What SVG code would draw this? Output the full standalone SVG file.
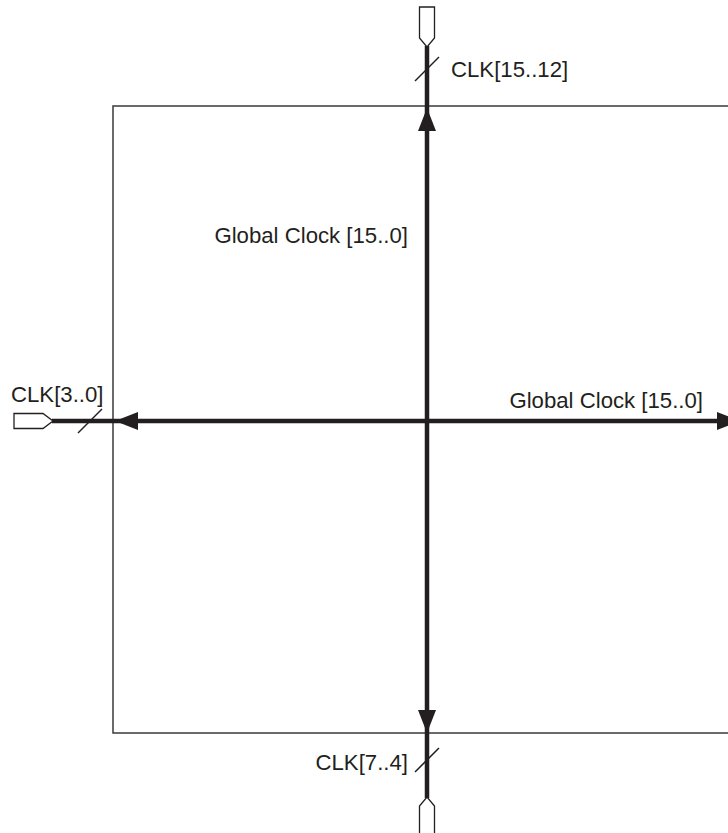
<svg xmlns="http://www.w3.org/2000/svg" width="728" height="833" viewBox="0 0 728 833">
<style>
.box{fill:none;stroke:#3a3a3a;stroke-width:1.5}
.bus{fill:none;stroke:#231f20;stroke-width:4.5}
.slash{fill:none;stroke:#231f20;stroke-width:1.5}
.pin{fill:#fff;stroke:#231f20;stroke-width:1.3}
.head{fill:#231f20}
.lbl{font-family:"Liberation Sans",Arial,sans-serif;font-size:22.2px;fill:#231f20}
</style>
<rect width="728" height="833" fill="#fff"/>
<g id="device"><rect class="box" x="113" y="106" width="640" height="627"/></g>
<g id="connectors">
<line class="bus" x1="427" y1="46" x2="427" y2="798"/>
<line class="bus" x1="52" y1="421" x2="722" y2="421"/>
<polygon class="head" points="427,108 418,131 436,131"/>
<polygon class="head" points="427,733 418,710 436,710"/>
<polygon class="head" points="115,421 138,412 138,430"/>
<polygon class="head" points="740,421 717,412 717,430"/>
<line class="slash" x1="415" y1="81" x2="439" y2="57"/>
<line class="slash" x1="415" y1="772" x2="439" y2="748"/>
<line class="slash" x1="78" y1="433" x2="102" y2="409"/>
</g>
<g id="pin-top"><polygon class="pin" points="419.5,7 434.5,7 434.5,38 427,47 419.5,38"/><text class="lbl" x="451" y="77">CLK[15..12]</text></g>
<g id="pin-bottom"><polygon class="pin" points="419.5,840 434.5,840 434.5,806 427,797 419.5,806"/><text class="lbl" x="408" y="770" text-anchor="end">CLK[7..4]</text></g>
<g id="pin-left"><polygon class="pin" points="14,413.5 43,413.5 53,421 43,428.5 14,428.5"/><text class="lbl" x="11" y="402">CLK[3..0]</text></g>
<g id="label-vertical"><text class="lbl" x="408" y="243" text-anchor="end">Global Clock [15..0]</text></g>
<g id="label-horizontal"><text class="lbl" x="703" y="408" text-anchor="end">Global Clock [15..0]</text></g>
</svg>
